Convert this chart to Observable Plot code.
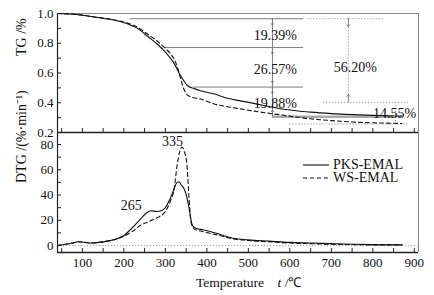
<!DOCTYPE html>
<html><head><meta charset="utf-8">
<script src="https://cdn.jsdelivr.net/npm/d3@7"></script>
<script src="https://cdn.jsdelivr.net/npm/@observablehq/plot@0.6"></script>
<style>
body{margin:0;background:#fff;}
#wrap{position:relative;width:434px;height:295px;font-family:"Liberation Serif","Times New Roman",serif;color:#111;}
#wrap svg.plotsvg{position:absolute;left:0;top:0;}
#wrap svg, #wrap svg text{font-family:"Liberation Serif","Times New Roman",serif !important;}
#legend{position:absolute;left:303px;top:158px;font-size:14px;line-height:13px;}
#legend div{display:flex;align-items:center;height:13px;}
#xtitle{position:absolute;left:196px;top:273px;font-size:13.5px;white-space:pre;}
</style></head><body><div id="wrap"></div>
<script>
// ---- data ----
const series = ["PKS-EMAL", "WS-EMAL"];
const tgTempPKS = [40, 80, 130, 180, 210, 230, 260, 280, 300, 320, 335, 345, 353, 370, 385, 416, 450, 498, 540, 577, 650, 700, 750, 800, 850, 870];
const tgPKS     = [1.0, 0.995, 0.975, 0.953, 0.93, 0.905, 0.84, 0.795, 0.74, 0.67, 0.59, 0.545, 0.516, 0.495, 0.48, 0.46, 0.43, 0.404, 0.38, 0.36, 0.337, 0.327, 0.32, 0.315, 0.311, 0.31];
const tgTempWS  = [40, 80, 130, 180, 210, 230, 260, 280, 300, 315, 325, 335, 344, 352, 365, 385, 420, 457, 500, 553, 600, 650, 700, 770, 850, 870];
const tgWS      = [1.0, 0.995, 0.977, 0.955, 0.935, 0.912, 0.855, 0.815, 0.765, 0.72, 0.67, 0.58, 0.496, 0.455, 0.437, 0.425, 0.39, 0.37, 0.35, 0.328, 0.31, 0.292, 0.28, 0.268, 0.262, 0.26];

const dtgTempPKS = [40, 60, 80, 90, 100, 120, 140, 160, 180, 200, 220, 240, 255, 265, 280, 290, 300, 310, 320, 328, 333, 338, 345, 352, 358, 365, 375, 390, 410, 430, 460, 500, 550, 600, 650, 700, 750, 800, 870];
const dtgPKS     = [0, 1, 2.3, 3, 2.8, 2, 2.5, 3.5, 5, 8, 14, 21, 26, 27.5, 27, 27.5, 30, 36, 44, 50, 50.5, 48, 45, 38, 28, 16, 13.5, 12.5, 11, 9, 6, 4.5, 3.5, 2.5, 2, 1.5, 1, 0.7, 0.5];
const dtgTempWS  = [40, 60, 80, 90, 100, 120, 140, 160, 180, 200, 220, 240, 260, 280, 300, 313, 320, 329, 335, 340, 345, 352, 356, 362, 370, 385, 410, 430, 460, 500, 550, 600, 650, 700, 750, 800, 870];
const dtgWS      = [0, 1, 2.3, 3, 2.8, 2, 2.5, 3.5, 5, 7.5, 11, 16, 19, 22, 27, 36, 43, 65, 75, 78, 75, 64, 43, 18, 13, 11.5, 9.5, 8, 5.5, 4, 3, 2, 1.5, 1, 0.8, 0.5, 0.5];

const xTicks = [100, 200, 300, 400, 500, 600, 700, 800, 900];
const xMinorTicks = d3.range(50, 901, 50);
const tgTicks = [0.2, 0.4, 0.6, 0.8, 1.0];
const tgMinorTicks = [0.2, 0.3, 0.4, 0.5, 0.6, 0.7, 0.8, 0.9];
const dtgTicks = [0, 20, 40, 60, 80];
const dtgMinorTicks = [0, 10, 20, 30, 40, 50, 60, 70, 80];

// mass-loss annotations
const startLevel = 0.965;
const stepLoss = [0.1939, 0.2657, 0.1988];
const stepLabels = ["19.39%", "26.57%", "19.88%"];
const totalLoss = 0.5620, totalLabel = "56.20%";
const residualLoss = 0.1455, residualLabel = "14.55%";
const stepLineStart = [215, 300, 368];
const stepLineEnd = 633;
const stepArrowTemp = 558;
const totalArrowTemp = 741;
const residualTemp = 855;

const peakLabels = [{t: 218, v: 32, text: "265"}, {t: 317, v: 82, text: "335"}];

// ---- build ----
const levels = [startLevel];
stepLoss.forEach(d => levels.push(levels[levels.length - 1] - d));
const totalBottom = startLevel - totalLoss;
const residualBottom = totalBottom - residualLoss;

const xDomain = [40, 910];
const W = 434, H = 295;
const serif = '"Liberation Serif","Times New Roman",serif';
const style = {fontFamily: serif, fontSize: "13px", background: "transparent", color: "#111", overflow: "visible"};
const dark = "#222", frameGray = "#888", annGray = "#6f6f6f";

const pksTG = tgTempPKS.map((t, i) => ({t, v: tgPKS[i]}));
const wsTG = tgTempWS.map((t, i) => ({t, v: tgWS[i]}));
const pksDTG = dtgTempPKS.map((t, i) => ({t, v: dtgPKS[i]}));
const wsDTG = dtgTempWS.map((t, i) => ({t, v: dtgWS[i]}));

const stepLines = stepLineStart.map((x1, i) => ({y: levels[i], x1, x2: stepLineEnd}));
const stepText = stepLabels.map((text, i) => ({t: stepArrowTemp, v: (levels[i] + levels[i + 1]) / 2, text}));
const arrowLen = 0.045;
const arrows = [
  {x: stepArrowTemp, y1: levels[0], y2: levels[0] - arrowLen},
  {x: stepArrowTemp, y1: levels[1], y2: levels[1] - arrowLen},
  {x: stepArrowTemp, y1: levels[2], y2: levels[2] + arrowLen},
  {x: stepArrowTemp, y1: levels[2], y2: levels[2] - arrowLen},
  {x: stepArrowTemp, y1: levels[3], y2: levels[3] + arrowLen},
  {x: totalArrowTemp, y1: startLevel, y2: startLevel - arrowLen * 1.2},
  {x: totalArrowTemp, y1: totalBottom, y2: totalBottom + arrowLen * 1.2}
];
const dottedH = [
  {y: startLevel, x1: 643, x2: 826},
  {y: totalBottom, x1: 681, x2: 886},
  {y: residualBottom, x1: 600, x2: 886}
];
const dottedV = [
  {x: totalArrowTemp, y1: startLevel, y2: totalBottom},
  {x: residualTemp, y1: totalBottom, y2: residualBottom}
];

const topPlot = Plot.plot({
  width: W, height: H, marginLeft: 57, marginRight: 16, marginTop: 13, marginBottom: 163,
  x: {domain: xDomain}, y: {domain: [0.2, 1.0]},
  style,
  marks: [
    Plot.ruleY([1.0], {stroke: frameGray}),
    Plot.ruleX([xDomain[1]], {stroke: frameGray}),
    Plot.axisY(tgMinorTicks, {tickSize: -4, fill: "none", label: null, stroke: dark}),
    Plot.axisY(tgTicks, {tickSize: 0, tickPadding: 4, tickFormat: d => d.toFixed(1), label: null, fontSize: 13, fontFamily: serif}),
    Plot.axisX(xMinorTicks, {tickSize: -4, fill: "none", label: null, stroke: dark}),
    Plot.ruleY(stepLines, {y: "y", x1: "x1", x2: "x2", stroke: annGray, strokeWidth: 0.9}),
    Plot.ruleY(dottedH, {y: "y", x1: "x1", x2: "x2", stroke: "#888", strokeWidth: 0.9, strokeDasharray: "1.2,1.8"}),
    Plot.ruleX(dottedV, {x: "x", y1: "y1", y2: "y2", stroke: "#888", strokeWidth: 0.9, strokeDasharray: "1.2,1.8"}),
    Plot.ruleY([{y: levels[3], x1: stepArrowTemp, x2: 850}], {y: "y", x1: "x1", x2: "x2", stroke: "#aaa", strokeWidth: 2.5}),
    Plot.ruleX([{x: stepArrowTemp, y1: levels[0], y2: levels[3]}], {x: "x", y1: "y1", y2: "y2", stroke: annGray, strokeWidth: 0.9}),
    Plot.arrow(arrows, {x: "x", y1: "y1", y2: "y2", stroke: "#777", strokeWidth: 0.8, headLength: 5, headAngle: 70}),
    Plot.line(wsTG, {x: "t", y: "v", stroke: "#111", strokeWidth: 1.1, strokeDasharray: "4,3", curve: "monotone-x"}),
    Plot.line(pksTG, {x: "t", y: "v", stroke: "#111", strokeWidth: 1.1, curve: "monotone-x"}),
    Plot.text(stepText, {x: "t", y: "v", text: "text", dx: 3, dy: 2, fontSize: 14, fontFamily: serif, fill: "#111"}),
    Plot.text([{t: totalArrowTemp, v: (startLevel + totalBottom) / 2, text: totalLabel}], {x: "t", y: "v", text: "text", dx: 7, dy: 7, fontSize: 14, fontFamily: serif, fill: "#111"}),
    Plot.text([{t: residualTemp, v: (totalBottom + residualBottom) / 2, text: residualLabel}], {x: "t", y: "v", text: "text", dx: -1, dy: 0, fontSize: 14, fontFamily: serif, fill: "#111"}),
    Plot.text(["TG /%"], {frameAnchor: "left", rotate: -90, dx: -36, dy: -17, fontSize: 14, fontFamily: serif, fill: "#111"}),
    Plot.ruleY([0.2], {stroke: dark, strokeWidth: 1.3}),
    Plot.ruleX([xDomain[0]], {stroke: dark, strokeWidth: 1.2})
  ]
});

const botPlot = Plot.plot({
  width: W, height: H, marginLeft: 57, marginRight: 16, marginTop: 132, marginBottom: 43,
  x: {domain: xDomain}, y: {domain: [-5.5, 89.5]},
  style,
  marks: [
    Plot.ruleX([xDomain[1]], {stroke: frameGray}),
    Plot.ruleY([0], {stroke: "#999", strokeWidth: 0.9, strokeDasharray: "1.2,1.8"}),
    Plot.axisY(dtgMinorTicks, {tickSize: -4, fill: "none", label: null, stroke: dark}),
    Plot.axisY(dtgTicks, {tickSize: 0, tickPadding: 4, label: null, fontSize: 13, fontFamily: serif}),
    Plot.axisX(xMinorTicks, {tickSize: -4, fill: "none", label: null, stroke: dark}),
    Plot.axisX(xTicks, {tickSize: 0, tickPadding: 5, label: null, fontSize: 13, fontFamily: serif}),
    Plot.line(wsDTG, {x: "t", y: "v", stroke: "#111", strokeWidth: 1.1, strokeDasharray: "4,3", curve: "monotone-x"}),
    Plot.line(pksDTG, {x: "t", y: "v", stroke: "#111", strokeWidth: 1.1, curve: "monotone-x"}),
    Plot.text(peakLabels, {x: "t", y: "v", text: "text", fontSize: 14, fontFamily: serif, fill: "#111"}),
    Plot.text(["DTG /(%·min⁻¹)"], {frameAnchor: "left", rotate: -90, dx: -36, dy: -9.5, fontSize: 14, fontFamily: serif, fill: "#111"}),
    Plot.ruleY([-5.5], {stroke: dark, strokeWidth: 1.3}),
    Plot.ruleX([xDomain[0]], {stroke: dark, strokeWidth: 1.2})
  ]
});

const wrap = document.getElementById("wrap");
topPlot.classList.add("plotsvg");
botPlot.classList.add("plotsvg");
wrap.appendChild(topPlot);
wrap.appendChild(botPlot);

const legend = document.createElement("div");
legend.id = "legend";
legend.innerHTML = series.map((s, i) =>
  `<div><svg width="27" height="13" style="margin-right:3px"><line x1="0" x2="26" y1="7" y2="7" stroke="#111" stroke-width="1.1" ${i ? 'stroke-dasharray="4,3"' : ''}/></svg><span>${s}</span></div>`
).join("");
wrap.appendChild(legend);

const xt = document.createElement("div");
xt.id = "xtitle";
xt.innerHTML = "Temperature    <i>t</i> /℃";
wrap.appendChild(xt);
</script></body></html>
